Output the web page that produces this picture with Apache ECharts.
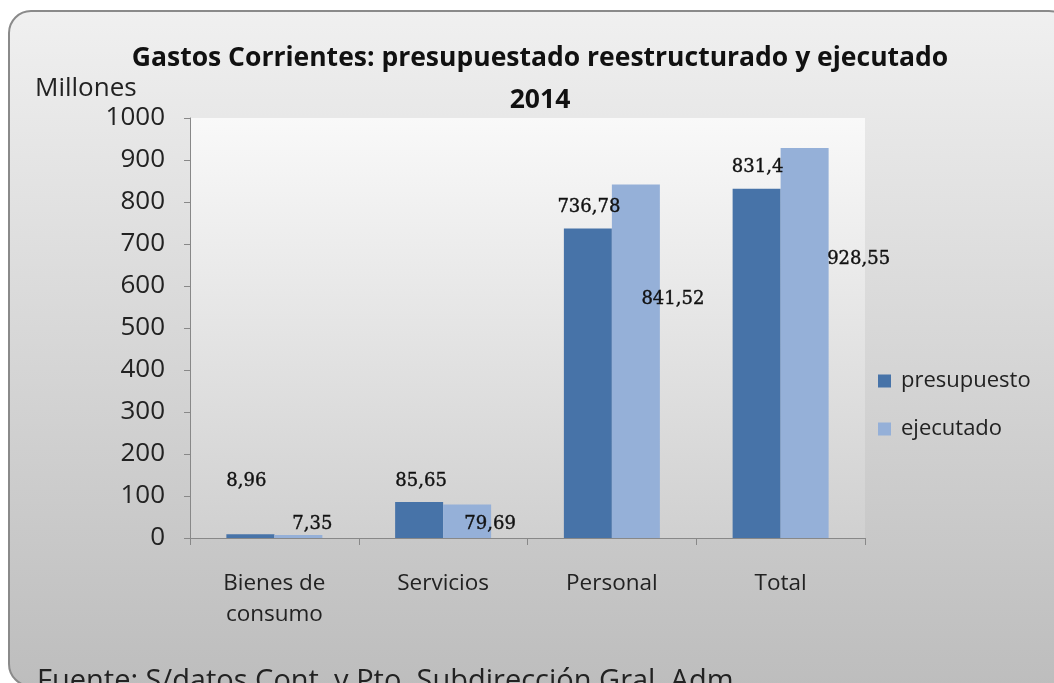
<!DOCTYPE html>
<html>
<head>
<meta charset="utf-8">
<script src="https://cdn.jsdelivr.net/npm/echarts@6/dist/echarts.min.js"></script>
<style>
html,body{margin:0;padding:0;background:#fff;}
#c{width:1054px;height:683px;}
</style>
</head>
<body>
<div id="c"></div>
<script>
var categories = ['Bienes de\nconsumo', 'Servicios', 'Personal', 'Total'];
var seriesNames = ['presupuesto', 'ejecutado'];
var presupuesto = [8.96, 85.65, 736.78, 831.4];
var ejecutado = [7.35, 79.69, 841.52, 928.55];
var yTicks = [0, 100, 200, 300, 400, 500, 600, 700, 800, 900, 1000];

// label offsets (styling only, relative to the default 'top' label position)
var presLabelOffsets = [[-4, -39], [2, -7], [1, -7], [1, -7]];
var ejecLabelOffsets = [[14, 3], [23, 34], [37, 129], [54, 125]];

var fmt = function (p) { return String(p.value).replace('.', ','); };
var labelStyle = {
  show: true, position: 'top', distance: 5, formatter: fmt,
  fontFamily: 'DejaVu Serif', fontSize: 18, color: '#111',
  textBorderColor: '#111', textBorderWidth: 0.4
};

var chart = echarts.init(document.getElementById('c'));
chart.setOption({
  backgroundColor: '#ffffff',
  animation: false,
  title: {
    text: 'Gastos Corrientes: presupuestado reestructurado y ejecutado\n2014',
    left: 535, top: 32, textAlign: 'center',
    textStyle: { fontFamily: 'Open Sans', fontWeight: 'bold', fontSize: 26.5, lineHeight: 42, color: '#111' }
  },
  graphic: [
    {
      type: 'rect', z: -10, silent: true,
      shape: { x: 9, y: 11, width: 1062, height: 675, r: 22 },
      style: {
        fill: new echarts.graphic.LinearGradient(0, 0, 0, 1, [
          { offset: 0, color: '#f0f0f0' }, { offset: 1, color: '#bdbdbd' }
        ]),
        stroke: '#8a8a8a', lineWidth: 2
      }
    },
    {
      type: 'text', left: 35, top: 76, z: 5,
      style: { text: 'Millones', font: '26px "Open Sans"', fill: '#222' }
    },
    {
      type: 'text', left: 37, top: 667, z: 5,
      style: { text: 'Fuente: S/datos Cont. y Pto. Subdirección Gral. Adm.', font: '29px "Open Sans"', fill: '#222' }
    }
  ],
  grid: {
    left: 190, right: 189, top: 118, bottom: 145, containLabel: false,
    show: true, borderWidth: 0,
    backgroundColor: new echarts.graphic.LinearGradient(0, 0, 0, 1, [
      { offset: 0, color: '#f9f9f9' }, { offset: 1, color: '#d0d0d0' }
    ])
  },
  legend: {
    orient: 'vertical', left: 878, top: 370, padding: 0,
    itemWidth: 13, itemHeight: 13, itemGap: 26,
    icon: 'rect',
    data: seriesNames,
    textStyle: { fontFamily: 'Open Sans', fontSize: 22, color: '#222', padding: [0, 0, 0, 5] }
  },
  xAxis: {
    type: 'category', data: categories,
    axisLine: { show: true, lineStyle: { color: '#888', width: 1 } },
    axisTick: { show: true, length: 7, alignWithLabel: false, lineStyle: { color: '#888' } },
    axisLabel: { fontFamily: 'Open Sans', fontSize: 22.5, lineHeight: 31, color: '#222', margin: 30, interval: 0 },
    splitLine: { show: false }
  },
  yAxis: {
    type: 'value', min: 0, max: 1000, interval: 100,
    axisLine: { show: true, lineStyle: { color: '#888', width: 1 } },
    axisTick: { show: true, length: 6, inside: false, lineStyle: { color: '#888' } },
    axisLabel: {
      fontFamily: 'Open Sans', fontSize: 26, color: '#222', margin: 25,
      formatter: function (v) { return yTicks.indexOf(v) >= 0 ? String(v) : ''; }
    },
    splitLine: { show: false }
  },
  series: [
    {
      name: seriesNames[0], type: 'bar', barWidth: 48, barGap: '0%',
      itemStyle: { color: '#4773a8' },
      label: labelStyle,
      data: presupuesto.map(function (v, i) { return { value: v, label: { offset: presLabelOffsets[i] } }; })
    },
    {
      name: seriesNames[1], type: 'bar', barWidth: 48, barGap: '0%',
      itemStyle: { color: '#95b0d8' },
      label: labelStyle,
      data: ejecutado.map(function (v, i) { return { value: v, label: { offset: ejecLabelOffsets[i] } }; })
    }
  ]
});
</script>
</body>
</html>
